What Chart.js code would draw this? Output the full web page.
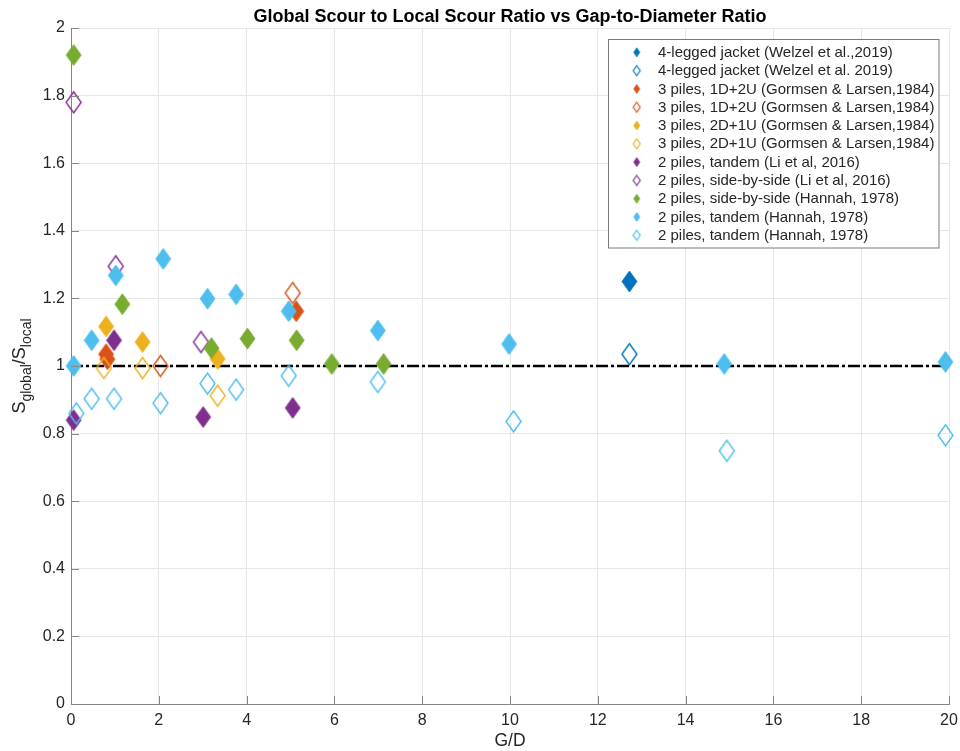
<!DOCTYPE html>
<html>
<head>
<meta charset="utf-8">
<script src="https://cdn.jsdelivr.net/npm/chart.js@4/dist/chart.umd.min.js"></script>
<style>
  html, body { margin: 0; padding: 0; background: #fff; }
  canvas { display: block; }
</style>
</head>
<body>
<canvas id="c" width="960" height="751"></canvas>
<script>
// G/D (gap-to-diameter) and S_global/S_local values for each data group
const jacketFilledGD = [12.72];
const jacketFilledRatio = [1.25];
const jacketOpenGD = [12.72];
const jacketOpenRatio = [1.035];

const p1D2UFilledGD = [0.80, 0.83, 5.13];
const p1D2UFilledRatio = [1.035, 1.02, 1.162];
const p1D2UOpenGD = [2.04, 5.05];
const p1D2UOpenRatio = [1.0, 1.216];

const p2D1UFilledGD = [0.80, 1.63, 3.34];
const p2D1UFilledRatio = [1.117, 1.071, 1.021];
const p2D1UOpenGD = [0.75, 1.63, 3.34];
const p2D1UOpenRatio = [0.994, 0.994, 0.912];

const liTandemGD = [0.06, 0.98, 3.01, 5.05];
const liTandemRatio = [0.84, 1.076, 0.849, 0.876];
const liSideGD = [0.06, 1.02, 2.96];
const liSideRatio = [1.78, 1.295, 1.071];

const hannahSideGD = [0.06, 1.17, 3.20, 4.02, 5.14, 5.94, 7.12];
const hannahSideRatio = [1.92, 1.183, 1.053, 1.081, 1.076, 1.006, 1.006];

const hannahTandemFilledGD = [0.06, 0.47, 1.02, 2.10, 3.11, 3.76, 4.96, 6.99, 9.98, 14.88, 19.92];
const hannahTandemFilledRatio = [1.0, 1.076, 1.268, 1.317, 1.199, 1.212, 1.162, 1.105, 1.065, 1.006, 1.012];
const hannahTandemOpenGD = [0.12, 0.47, 0.98, 2.04, 3.11, 3.76, 4.96, 6.99, 10.08, 14.94, 19.92];
const hannahTandemOpenRatio = [0.86, 0.903, 0.903, 0.89, 0.948, 0.93, 0.971, 0.953, 0.836, 0.749, 0.795];

// Reference line S_global/S_local = 1
const refLineGD = [0, 20];
const refLineRatio = [1, 1];

const seriesLabels = [
  '4-legged jacket (Welzel et al.,2019)',
  '4-legged jacket (Welzel et al. 2019)',
  '3 piles, 1D+2U (Gormsen & Larsen,1984)',
  '3 piles, 1D+2U (Gormsen & Larsen,1984)',
  '3 piles, 2D+1U (Gormsen & Larsen,1984)',
  '3 piles, 2D+1U (Gormsen & Larsen,1984)',
  '2 piles, tandem (Li et al, 2016)',
  '2 piles, side-by-side (Li et al, 2016)',
  '2 piles, side-by-side (Hannah, 1978)',
  '2 piles, tandem (Hannah, 1978)',
  '2 piles, tandem (Hannah, 1978)'
];

const xTicks = [0, 2, 4, 6, 8, 10, 12, 14, 16, 18, 20];
const yTicks = [0, 0.2, 0.4, 0.6, 0.8, 1, 1.2, 1.4, 1.6, 1.8, 2];

const FONT = "'Liberation Sans', Arial, Helvetica, sans-serif";
const TEXT = '#262626';

const C_BLUE = '#0072BD', C_ORANGE = '#D95319', C_YELLOW = '#EDB120',
      C_PURPLE = '#7E2F8E', C_GREEN = '#77AC30', C_CYAN = '#4DBEEE';

// Tall diamond marker rendered to a small canvas
function diamond(color, filled, w, h, lw) {
  const pad = 2;
  const cv = document.createElement('canvas');
  cv.width = w + pad * 2; cv.height = h + pad * 2;
  const g = cv.getContext('2d');
  const cx = cv.width / 2, cy = cv.height / 2;
  g.beginPath();
  g.moveTo(cx, pad); g.lineTo(pad + w, cy); g.lineTo(cx, pad + h); g.lineTo(pad, cy);
  g.closePath();
  if (filled) { g.fillStyle = color; g.fill(); g.strokeStyle = color; g.lineWidth = 0.8; g.stroke(); }
  else { g.strokeStyle = color; g.lineWidth = lw || 1.4; g.stroke(); }
  return cv;
}

const seriesStyle = [
  [C_BLUE, true], [C_BLUE, false],
  [C_ORANGE, true], [C_ORANGE, false],
  [C_YELLOW, true], [C_YELLOW, false],
  [C_PURPLE, true], [C_PURPLE, false],
  [C_GREEN, true],
  [C_CYAN, true], [C_CYAN, false]
];

const seriesData = [
  [jacketFilledGD, jacketFilledRatio], [jacketOpenGD, jacketOpenRatio],
  [p1D2UFilledGD, p1D2UFilledRatio], [p1D2UOpenGD, p1D2UOpenRatio],
  [p2D1UFilledGD, p2D1UFilledRatio], [p2D1UOpenGD, p2D1UOpenRatio],
  [liTandemGD, liTandemRatio], [liSideGD, liSideRatio],
  [hannahSideGD, hannahSideRatio],
  [hannahTandemFilledGD, hannahTandemFilledRatio], [hannahTandemOpenGD, hannahTandemOpenRatio]
];

const toPoints = (xs, ys) => xs.map((x, i) => ({ x: x, y: ys[i] }));

const datasets = [{
  label: 'S = 1',
  data: toPoints(refLineGD, refLineRatio),
  showLine: true,
  borderColor: '#000',
  borderWidth: 2.6,
  borderDash: [12, 3, 3, 3],
  pointRadius: 0,
  order: 100
}];

seriesData.forEach((s, i) => {
  const [color, filled] = seriesStyle[i];
  datasets.push({
    label: seriesLabels[i],
    data: toPoints(s[0], s[1]),
    pointStyle: diamond(color, filled, 15, 21, 1.4),
    pointRadius: 10,
    backgroundColor: color,
    borderColor: color,
    showLine: false,
    clip: false,
    order: 50 - i
  });
});

const legendMarks = seriesStyle.map(([c, f]) => diamond(c, f, f ? 6 : 7, f ? 9 : 10, 1.2));

// Title, axis labels, inward ticks and the boxed legend
const decorations = {
  id: 'decorations',
  afterDraw(chart) {
    const ctx = chart.ctx;
    const xs = chart.scales.x, ys = chart.scales.y;
    const area = chart.chartArea;
    ctx.save();

    // inward tick marks
    ctx.strokeStyle = '#858585';
    ctx.lineWidth = 1;
    ctx.beginPath();
    yTicks.forEach(v => {
      const y = Math.round(ys.getPixelForValue(v)) + 0.5;
      ctx.moveTo(area.left, y); ctx.lineTo(area.left + 8, y);
    });
    xTicks.forEach(v => {
      const x = Math.round(xs.getPixelForValue(v)) + 0.5;
      ctx.moveTo(x, area.bottom); ctx.lineTo(x, area.bottom - 8);
    });
    ctx.stroke();

    // title
    ctx.fillStyle = '#000';
    ctx.font = 'bold 18px ' + FONT;
    ctx.textAlign = 'center';
    ctx.textBaseline = 'alphabetic';
    ctx.fillText('Global Scour to Local Scour Ratio vs Gap-to-Diameter Ratio', (area.left + area.right) / 2, 22);

    // x-axis label
    ctx.fillStyle = TEXT;
    ctx.font = '17.5px ' + FONT;
    ctx.fillText('G/D', (area.left + area.right) / 2, 746);

    // y-axis label with subscripts
    const parts = [
      ['S', 18, 0], ['global', 14, 6], ['/', 18, 0], ['S', 18, 0], ['local', 14, 6]
    ];
    let total = 0;
    parts.forEach(p => { ctx.font = p[1] + 'px ' + FONT; total += ctx.measureText(p[0]).width; });
    ctx.translate(25, 366);
    ctx.rotate(-Math.PI / 2);
    ctx.textAlign = 'left';
    let pos = -total / 2;
    parts.forEach(p => {
      ctx.font = p[1] + 'px ' + FONT;
      ctx.fillText(p[0], pos, p[2]);
      pos += ctx.measureText(p[0]).width;
    });
    ctx.setTransform(1, 0, 0, 1, 0, 0);

    // legend
    const bx = 608.5, by = 39.5, bw = 330.5, bh = 208.5;
    ctx.fillStyle = '#fff';
    ctx.fillRect(bx, by, bw, bh);
    ctx.strokeStyle = '#7a7a7a';
    ctx.lineWidth = 1;
    ctx.strokeRect(bx, by, bw, bh);
    ctx.font = '15px ' + FONT;
    ctx.fillStyle = TEXT;
    ctx.textAlign = 'left';
    ctx.textBaseline = 'middle';
    seriesLabels.forEach((lbl, i) => {
      const y = 52.3 + i * 18.3;
      const m = legendMarks[i];
      ctx.drawImage(m, 636.7 - m.width / 2, y - m.height / 2);
      ctx.fillText(lbl, 658, y + 0.5);
    });
    ctx.restore();
  }
};

new Chart(document.getElementById('c'), {
  type: 'scatter',
  data: { datasets: datasets },
  options: {
    responsive: false,
    animation: false,
    devicePixelRatio: 1,
    layout: { padding: { left: 0, top: 28, right: 10, bottom: 0 } },
    plugins: {
      legend: { display: false },
      title: { display: false },
      tooltip: { enabled: false }
    },
    scales: {
      x: {
        type: 'linear',
        min: 0, max: 20,
        afterFit(scale) { scale.height = 47; scale.paddingLeft = 0; scale.paddingRight = 0; },
        afterBuildTicks(scale) { scale.ticks = xTicks.map(v => ({ value: v })); },
        grid: { color: '#e6e6e6', drawTicks: false, lineWidth: 1 },
        border: { color: '#858585', width: 1 },
        ticks: {
          padding: 7,
          color: TEXT,
          font: { family: FONT, size: 16 },
          maxRotation: 0,
          callback: v => String(v)
        }
      },
      y: {
        type: 'linear',
        min: 0, max: 2,
        afterFit(scale) { scale.width = 71; scale.paddingTop = 0; scale.paddingBottom = 0; },
        afterBuildTicks(scale) { scale.ticks = yTicks.map(v => ({ value: v })); },
        grid: { color: '#e6e6e6', drawTicks: false, lineWidth: 1 },
        border: { color: '#858585', width: 1 },
        ticks: {
          padding: 6,
          color: TEXT,
          font: { family: FONT, size: 16 },
          callback: v => String(Math.round(v * 10) / 10)
        }
      }
    }
  },
  plugins: [decorations]
});
</script>
</body>
</html>
